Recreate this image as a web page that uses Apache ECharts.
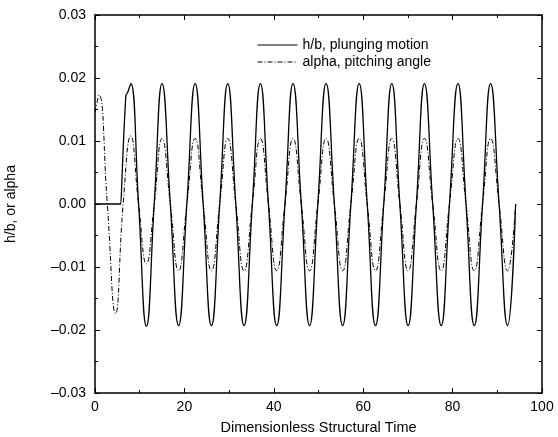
<!DOCTYPE html>
<html>
<head>
<meta charset="utf-8">
<script src="https://cdn.jsdelivr.net/npm/echarts@6/dist/echarts.min.js"></script>
<style>
html,body{margin:0;padding:0;background:#fff;}
#chart{width:558px;height:437px;}
</style>
</head>
<body>
<div id="chart"></div>
<script>
const seriesNames = ['h/b, plunging motion', 'alpha, pitching angle'];
const xTitle = 'Dimensionless Structural Time';
const yTitle = 'h/b, or alpha';

const hTime = [0, 5.8, 5.95, 6.9, 7.3,
  8.0, 9.75, 11.5, 13.25, 15.0, 16.85, 18.7, 20.55, 22.4, 24.2, 26.05, 27.9,
  29.7, 31.5, 33.35, 35.2, 37.0, 38.8, 40.65, 42.5, 44.3, 46.15, 48.0, 49.85,
  51.7, 53.55, 55.4, 57.25, 59.1, 60.9, 62.75, 64.6, 66.4, 68.2, 70.05, 71.9,
  73.7, 75.55, 77.45, 79.3, 81.2, 83.0, 84.85, 86.7, 88.5, 90.4, 92.3, 94.1];
const hValue = [0, 0, 0, 0.0172, 0.0177,
  0.0191, 0, -0.0194, 0, 0.0191, 0, -0.0193, 0, 0.0191, 0, -0.0193, 0,
  0.0191, 0, -0.0193, 0, 0.0191, 0, -0.0193, 0, 0.0191, 0, -0.0193, 0,
  0.0191, 0, -0.0193, 0, 0.0191, 0, -0.0193, 0, 0.0191, 0, -0.0193, 0,
  0.0191, 0, -0.0193, 0, 0.0191, 0, -0.0193, 0, 0.0191, 0, -0.0193, 0];

const alphaTime = [0, 0.9, 2.75, 4.6, 6.3,
  8.0, 9.75, 11.5, 13.25, 15.0, 16.85, 18.7, 20.55, 22.4, 24.2, 26.05, 27.9,
  29.7, 31.5, 33.35, 35.2, 37.0, 38.8, 40.65, 42.5, 44.3, 46.15, 48.0, 49.85,
  51.7, 53.55, 55.4, 57.25, 59.1, 60.9, 62.75, 64.6, 66.4, 68.2, 70.05, 71.9,
  73.7, 75.55, 77.45, 79.3, 81.2, 83.0, 84.85, 86.7, 88.5, 90.4, 92.3, 94.1];
const alphaValue = [0.0145, 0.0173, 0, -0.0174, 0,
  0.0108, 0, -0.0095, 0, 0.0104, 0, -0.0106, 0, 0.0104, 0, -0.0106, 0,
  0.0104, 0, -0.0106, 0, 0.0104, 0, -0.0106, 0, 0.0104, 0, -0.0106, 0,
  0.0104, 0, -0.0106, 0, 0.0104, 0, -0.0106, 0, 0.0104, 0, -0.0106, 0,
  0.0104, 0, -0.0106, 0, 0.0104, 0, -0.0106, 0, 0.0104, 0, -0.0106, 0];

const xTicks = [0, 20, 40, 60, 80, 100];
const yTicks = [-0.03, -0.02, -0.01, 0.00, 0.01, 0.02, 0.03];

const FONT = 'Liberation Sans, Arial, Helvetica, sans-serif';
const pairs = (xs, ys) => xs.map((x, i) => [x, ys[i]]);

const chart = echarts.init(document.getElementById('chart'), null, {renderer: 'canvas'});

const axisLineStyle = {lineStyle: {color: '#000', width: 1.5}};
const baseX = {
  type: 'value', min: xTicks[0], max: xTicks[xTicks.length - 1],
  interval: xTicks[1] - xTicks[0],
  axisLine: {show: true, onZero: false, ...axisLineStyle},
  axisTick: {show: true, inside: true, length: 5, lineStyle: {color: '#000', width: 1}},
  minorTick: {show: true, splitNumber: 2, length: 3, lineStyle: {color: '#000', width: 1}},
  splitLine: {show: false}
};
const baseY = {
  type: 'value', min: yTicks[0], max: yTicks[yTicks.length - 1],
  interval: 0.01,
  axisLine: {show: true, onZero: false, ...axisLineStyle},
  axisTick: {show: true, inside: true, length: 5, lineStyle: {color: '#000', width: 1}},
  minorTick: {show: true, splitNumber: 2, length: 3, lineStyle: {color: '#000', width: 1}},
  splitLine: {show: false}
};

chart.setOption({
  animation: false,
  backgroundColor: '#fff',
  textStyle: {fontFamily: FONT},
  grid: {left: 95, right: 16, top: 15, bottom: 44, containLabel: false, outerBoundsMode: 'none'},
  legend: {
    data: seriesNames,
    orient: 'vertical',
    left: 252, top: 33,
    itemWidth: 40, itemHeight: 10, itemGap: 3,
    itemStyle: {opacity: 0},
    lineStyle: {width: 1},
    textStyle: {fontFamily: FONT, fontSize: 14, color: '#000'}
  },
  xAxis: [
    Object.assign({}, baseX, {
      position: 'bottom',
      name: xTitle, nameLocation: 'middle', nameGap: 27,
      nameTextStyle: {fontFamily: FONT, fontSize: 14.5, color: '#000'},
      axisLabel: {fontFamily: FONT, fontSize: 14, color: '#000', margin: 7}
    }),
    Object.assign({}, baseX, {position: 'top', axisLabel: {show: false}})
  ],
  yAxis: [
    Object.assign({}, baseY, {
      position: 'left',
      name: yTitle, nameLocation: 'middle', nameGap: 77, nameRotate: 90,
      nameTextStyle: {fontFamily: FONT, fontSize: 14, color: '#000'},
      axisLabel: {fontFamily: FONT, fontSize: 14, color: '#000', margin: 9,
        formatter: v => (Math.abs(v) < 1e-9 ? '0.00' : v.toFixed(2).replace('-', '\u2013'))}
    }),
    Object.assign({}, baseY, {position: 'right', axisLabel: {show: false}})
  ],
  series: [
    {
      name: seriesNames[0], type: 'line', xAxisIndex: 0, yAxisIndex: 0,
      data: pairs(hTime, hValue), smooth: 0.5, symbol: 'none',
      lineStyle: {color: '#000', width: 1.3, type: 'solid'},
      itemStyle: {color: '#000'}
    },
    {
      name: seriesNames[1], type: 'line', xAxisIndex: 0, yAxisIndex: 0,
      data: pairs(alphaTime, alphaValue), smooth: 0.5, symbol: 'none',
      lineStyle: {color: '#000', width: 1, type: [5, 2, 1, 2]},
      itemStyle: {color: '#000'}
    }
  ]
});
</script>
</body>
</html>
